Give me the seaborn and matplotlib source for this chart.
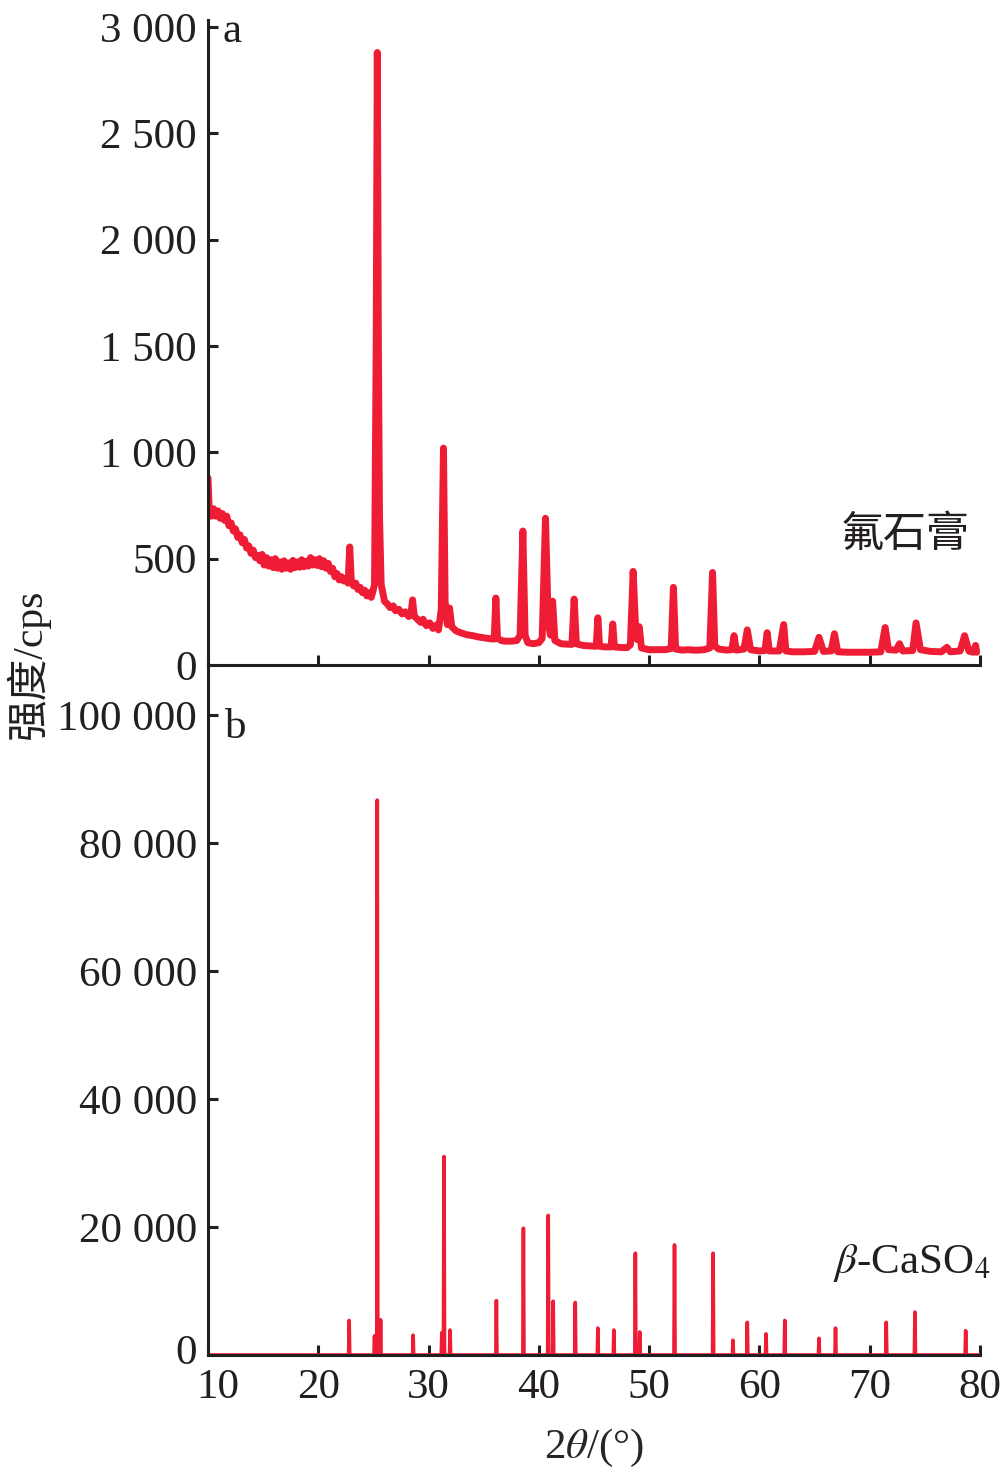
import numpy as np
import pandas as pd
import seaborn as sns
import matplotlib
matplotlib.use('Agg')
import matplotlib.pyplot as plt
import matplotlib.transforms as mtransforms
from matplotlib.ticker import FuncFormatter

top_x = [10.0, 10.1, 10.3, 10.5, 10.7, 10.9, 11.1, 11.3, 11.5, 11.7, 11.9, 12.1, 12.3, 12.5,
         12.7, 12.9, 13.1, 13.3, 13.5, 13.7, 13.9, 14.1, 14.3, 14.5, 14.7, 14.9, 15.1, 15.3,
         15.5, 15.7, 15.9, 16.1, 16.3, 16.5, 16.7, 16.9, 17.1, 17.3, 17.5, 17.7, 17.9, 18.1,
         18.3, 18.5, 18.7, 18.9, 19.1, 19.3, 19.5, 19.7, 19.9, 20.1, 20.3, 20.5, 20.7, 20.9,
         21.1, 21.3, 21.5, 21.7, 21.9, 22.1, 22.3, 22.5, 22.7, 22.85, 23.0, 23.2, 23.4, 23.6,
         23.8, 24.0, 24.2, 24.4, 24.6, 24.8, 24.95, 25.1, 25.25, 25.35, 25.45, 25.55, 25.7,
         26.0, 26.3, 26.5, 26.8, 27.0, 27.3, 27.6, 27.9, 28.2, 28.4, 28.55, 28.7, 29.0, 29.3,
         29.5, 29.8, 30.1, 30.4, 30.7, 30.9, 31.15, 31.35, 31.5, 31.7, 31.9, 32.1, 32.5,
         33.0, 33.5, 34.0, 34.5, 35.0, 35.5, 35.95, 36.1, 36.25, 36.6, 37.0, 37.5, 38.0,
         38.3, 38.55, 38.75, 39.0, 39.5, 40.0, 40.3, 40.6, 40.85, 41.05, 41.25, 41.45, 42.0,
         42.5, 43.0, 43.2, 43.4, 44.0, 44.5, 45.2, 45.35, 45.5, 46.0, 46.55, 46.7, 46.85,
         47.5, 48.0, 48.3, 48.55, 48.75, 48.9, 49.1, 49.3, 50.0, 50.5, 51.0, 51.5, 52.0,
         52.2, 52.4, 53.0, 53.5, 54.0, 54.5, 55.0, 55.5, 55.75, 55.95, 56.3, 57.0, 57.5,
         57.7, 57.9, 58.6, 58.9, 59.2, 60.0, 60.5, 60.7, 60.9, 61.8, 62.2, 62.4, 63.0, 64.0,
         65.0, 65.4, 65.8, 66.5, 66.8, 67.1, 68.0, 69.0, 70.0, 71.0, 71.4, 71.7, 72.4, 72.7,
         73.0, 73.9, 74.2, 74.6, 75.5, 76.5, 77.0, 77.3, 78.2, 78.6, 79.0, 79.4, 79.6, 79.7]
top_y = [880, 745, 700, 735, 700, 725, 690, 712, 680, 700, 655, 668, 630, 640,
         600, 612, 575, 590, 550, 560, 525, 540, 505, 515, 490, 520, 470, 505,
         465, 495, 458, 500, 455, 485, 450, 490, 455, 480, 450, 492, 458, 485,
         460, 495, 462, 488, 465, 505, 470, 495, 468, 500, 462, 490, 455, 478,
         440, 455, 415, 430, 400, 415, 395, 405, 385, 555, 390, 372, 385, 355,
         365, 340, 352, 325, 340, 318, 345, 380, 1500, 2880, 1500, 700, 380,
         300, 285, 270, 278, 255, 262, 240, 250, 228, 238, 306, 230, 215, 200,
         215, 185, 198, 172, 188, 165, 260, 1020, 300, 190, 268, 180, 160,
         150, 142, 138, 132, 128, 124, 122, 315, 125, 115, 112, 112, 115,
         140, 630, 140, 105, 100, 105, 125, 690, 200, 140, 300, 115, 100,
         98, 97, 310, 100, 92, 90, 88, 222, 88, 85, 85, 193, 85,
         82, 82, 95, 440, 200, 120, 180, 80, 72, 72, 72, 72, 78,
         365, 75, 70, 72, 70, 70, 72, 80, 435, 90, 75, 70, 72,
         138, 70, 75, 165, 72, 66, 68, 152, 66, 66, 190, 66, 62, 62,
         64, 130, 64, 66, 147, 62, 60, 60, 60, 62, 176, 72, 70, 100,
         66, 68, 198, 72, 64, 62, 83, 62, 66, 138, 65, 60, 92, 60]

# panel b: reference lines of beta-CaSO4
ref_pos = [22.8, 25.1, 25.35, 25.65, 28.6, 31.2, 31.4, 31.95, 36.15, 38.6, 40.85, 41.3,
           43.3, 45.35, 46.8, 48.75, 49.15, 52.3, 55.8, 57.6, 58.9, 60.6, 62.3, 65.4,
           66.9, 71.5, 74.1, 78.7]
ref_int = [5400, 3000, 86700, 5500, 3100, 3500, 31000, 3900, 8500, 19800, 21800, 8400,
           8200, 4200, 3900, 15900, 3600, 17200, 15900, 2300, 5100, 3300, 5400, 2600,
           4200, 5100, 6700, 3800]

top_ticks = [0, 500, 1000, 1500, 2000, 2500, 3000]
bot_ticks = [0, 20000, 40000, 60000, 80000, 100000]
x_ticks = [10, 20, 30, 40, 50, 60, 70, 80]

red = '#ee1c34'
ink = '#231f20'

sns.set_style('ticks')
plt.rcParams['font.family'] = ['Liberation Serif', 'Noto Sans CJK SC']
plt.rcParams['mathtext.fontset'] = 'stix'
plt.rcParams['axes.edgecolor'] = ink
plt.rcParams['xtick.color'] = ink
plt.rcParams['ytick.color'] = ink
plt.rcParams['text.color'] = ink

fig = plt.figure(figsize=(10, 14.83), dpi=100)
ax1 = fig.add_axes([0.208, 1 - 665 / 1483, 0.772, 645 / 1483])
ax2 = fig.add_axes([0.208, 1 - 1355 / 1483, 0.772, 690 / 1483])

df_a = pd.DataFrame({'x': top_x, 'y': top_y})
sns.lineplot(data=df_a, x='x', y='y', ax=ax1, color=red, lw=5, estimator=None,
             sort=False, solid_joinstyle='round')

# stick pattern: each line drawn as a narrow spike from zero
sx, sy = [9.9], [0]
for p, h in zip(ref_pos, ref_int):
    sx += [p - 0.05, p, p + 0.05]
    sy += [0, h, 0]
sx.append(80.1)
sy.append(0)
df_b = pd.DataFrame({'x': sx, 'y': sy})
sns.lineplot(data=df_b, x='x', y='y', ax=ax2, color=red, lw=2.6, estimator=None,
             sort=False)

fmt = FuncFormatter(lambda v, p: f"{int(v):,}".replace(',', ' '))
for ax in (ax1, ax2):
    ax.set_xlim(10, 80)
    ax.set_xticks(x_ticks)
    ax.yaxis.set_major_formatter(fmt)
    ax.tick_params(direction='in', length=7, width=2.2, labelsize=31, pad=8)
    for s in ('top', 'right'):
        ax.spines[s].set_visible(False)
    for s in ('left', 'bottom'):
        ax.spines[s].set_linewidth(2.2)
    ax.set_xlabel('')
    ax.set_ylabel('')
    ax.patch.set_alpha(0)

ax1.set_ylim(0, 3033)
ax1.set_yticks(top_ticks)
ax1.tick_params(axis='x', labelbottom=False)
ax2.set_ylim(0, 107812)
ax2.set_yticks(bot_ticks)
ax2.tick_params(axis='x', pad=10)

# nudge the first x label and the bottom zero apart, as in the original
ax2.get_xticklabels()[0].set_transform(
    ax2.get_xticklabels()[0].get_transform()
    + mtransforms.ScaledTranslation(10 / 100, 0, fig.dpi_scale_trans))
ax2.get_yticklabels()[0].set_transform(
    ax2.get_yticklabels()[0].get_transform()
    + mtransforms.ScaledTranslation(0, 6 / 100, fig.dpi_scale_trans))

ax2.set_xlabel(r'2$\theta$/(°)', fontsize=31, labelpad=14)
fig.text(0.028, 1 - 665 / 1483, '强度/cps', rotation=90, ha='center', va='center',
         fontsize=30)
fig.text(0.222, 1 - 42 / 1483, 'a', fontsize=31)
fig.text(0.225, 1 - 738 / 1483, 'b', fontsize=31)
fig.text(0.905, 1 - 535 / 1483, '氟石膏', ha='center', va='center', fontsize=31,
         family=['Noto Sans CJK SC'], fontweight='light')
fig.text(0.99, 1 - 1263 / 1483, r'$\beta$-CaSO$_4$', ha='right', va='center', fontsize=31)

fig.savefig('out.png', dpi=100)
